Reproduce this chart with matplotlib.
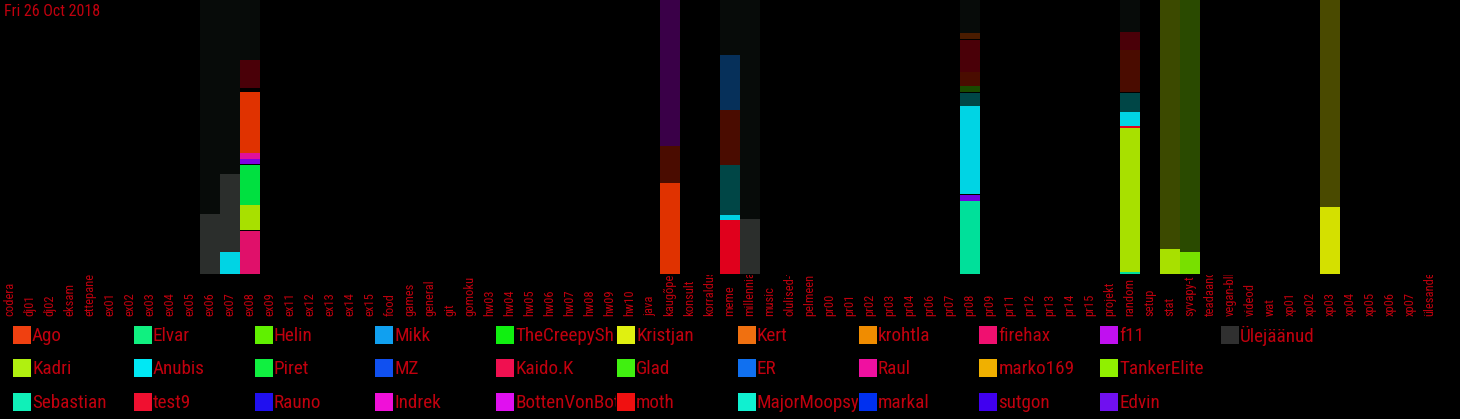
import matplotlib
matplotlib.use("Agg")
import matplotlib.pyplot as plt
import matplotlib.font_manager as fm
from matplotlib.patches import Rectangle
from matplotlib.transforms import Bbox, TransformedBbox

# the original uses a very narrow face; take the narrowest one available
narrow = [f for f in fm.fontManager.ttflist
          if "Narrow" in f.name or "Condensed" in f.name
          or str(f.stretch) in ("condensed", "semi-condensed", "extra-condensed", "ultra-condensed")]
family = narrow[0].name if narrow else "DejaVu Sans"
for pref in ["Liberation Sans Narrow", "Roboto Condensed", "DejaVu Sans Condensed", "Open Sans Condensed"]:
    if any(f.name == pref for f in narrow):
        family = pref
        break
plt.rcParams["font.family"] = [family, "DejaVu Sans"]
plt.rcParams["font.stretch"] = "condensed"
squeeze = 1.0 if narrow else 0.85

# channels (x axis), in the order shown
channels = [
    "codera", "dj01", "dj02", "eksam", "ettepanek", "ex01", "ex02", "ex03",
    "ex04", "ex05", "ex06", "ex07", "ex08", "ex09", "ex11", "ex12", "ex13",
    "ex14", "ex15", "food", "games", "general", "git", "gomoku", "hw03",
    "hw04", "hw05", "hw06", "hw07", "hw08", "hw09", "hw10", "java", "kaugõpe",
    "konsult", "korraldus", "meme", "millennial", "music", "olulised-teated",
    "pelmeeni-", "pr00", "pr01", "pr02", "pr03", "pr04", "pr06", "pr07",
    "pr08", "pr09", "pr11", "pr12", "pr13", "pr14", "pr15", "projekt",
    "random", "setup", "stat", "syvapy-t", "teadaanded", "vegan-blk",
    "videod", "wat", "xp01", "xp02", "xp03", "xp04", "xp05", "xp06", "xp07",
    "ülesanded",
]

# stacked segments per channel, bottom to top (share of column height, %)
stack_values = {
    "ex06": [21.9, 78.1],
    "ex07": [8.0, 28.5, 63.5],
    "ex08": [15.7, 0.4, 9.1, 14.6, 0.4, 1.8, 2.2, 22.3, 1.5, 10.2, 21.8],
    "kaugõpe": [33.2, 13.5, 53.3],
    "meme": [19.7, 1.8, 18.2, 20.1, 20.1, 20.1],
    "millennial": [20.1, 79.9],
    "pr08": [26.6, 2.2, 0.4, 32.1, 4.7, 0.4, 2.2, 5.1, 11.7, 0.4, 2.2, 12.0],
    "random": [0.7, 52.6, 0.7, 5.1, 6.9, 0.4, 15.3, 6.6, 11.7],
    "stat": [9.1, 90.9],
    "syvapy-t": [8.0, 92.0],
    "xp03": [24.5, 75.5],
}
stack_keys = {
    "ex06": ["Ülejäänud", "taust"],
    "ex07": ["Anubis", "Ülejäänud", "taust"],
    "ex08": ["Kaido.K", "must", "Kadri", "Piret", "must", "f11", "Raul",
             "Ago", "must", "tumepunane", "taust"],
    "kaugõpe": ["Ago", "tumepruun", "tumelilla"],
    "meme": ["test9", "Anubis", "tumeteal", "tumepruun", "tumesinine", "taust"],
    "millennial": ["Ülejäänud", "taust"],
    "pr08": ["Elvar", "Edvin", "must", "Anubis", "tumeteal", "must", "rohe",
             "tumepruun", "tumepunane", "must", "pruun", "taust"],
    "random": ["Elvar", "Kadri", "test9", "Anubis", "tumeteal", "must",
               "tumepruun", "tumepunane", "taust"],
    "stat": ["Kadri", "oliiv"],
    "syvapy-t": ["Helin", "tumeroheline"],
    "xp03": ["Kristjan", "tumekollane"],
}

# legend, column by column
legend_names = [
    "Ago", "Kadri", "Sebastian",
    "Elvar", "Anubis", "test9",
    "Helin", "Piret", "Rauno",
    "Mikk", "MZ", "Indrek",
    "TheCreepySh", "Kaido.K", "BottenVonBot",
    "Kristjan", "Glad", "moth",
    "Kert", "ER", "MajorMoopsy",
    "krohtla", "Raul", "markal",
    "firehax", "marko169", "sutgon",
    "f11", "TankerElite", "Edvin",
    "Ülejäänud",
]
legend_colors = [
    "#f04010", "#b0f010", "#10f0b8",
    "#10f080", "#00e8f4", "#f01030",
    "#60f000", "#10f040", "#2010f0",
    "#10a0f0", "#1050f0", "#f010d8",
    "#10f010", "#f01050", "#e010f0",
    "#e0f010", "#40f010", "#f01010",
    "#f07010", "#1070f0", "#10f0d0",
    "#f08c00", "#f010a0", "#0030f0",
    "#f01070", "#f0b000", "#4000f0",
    "#c010f0", "#90f000", "#7010f0",
    "#303030",
]

bar_colors = {
    "taust": "#070b09", "must": "#000000", "Ülejäänud": "#2b2e2c",
    "Anubis": "#00d4e4", "Kaido.K": "#e0106a", "Kadri": "#a8e000",
    "Piret": "#00e040", "f11": "#8000e0", "Raul": "#e0109a",
    "Ago": "#e03200", "test9": "#e0001c", "Elvar": "#00e09a",
    "Edvin": "#7000e0", "Helin": "#78e000", "Kristjan": "#d4e000",
    "tumepunane": "#4a0008", "tumepruun": "#4a0c00", "tumelilla": "#3a0048",
    "tumeteal": "#004646", "tumesinine": "#06305a", "rohe": "#1a4a00",
    "pruun": "#4a1c00", "oliiv": "#3c4a00", "tumeroheline": "#2a4a00",
    "tumekollane": "#4a4a00",
}

TEXT = "#c0000e"
W, H = 1460, 419
plot_bottom = 274

fig = plt.figure(figsize=(W / 100, H / 100), dpi=100, facecolor="black")
ax = fig.add_axes([0, 1 - plot_bottom / H, 1, plot_bottom / H])
ax.set_facecolor("black")
ax.set_xlim(-0.5, 72.5)
ax.set_ylim(0, 100)
ax.axis("off")

for i, ch in enumerate(channels):
    if ch not in stack_values:
        continue
    bottom = 0
    for v, k in zip(stack_values[ch], stack_keys[ch]):
        ax.bar(i, v, bottom=bottom, width=1.0, color=bar_colors[k], linewidth=0)
        bottom += v

ax.text(0.003, 0.985, "Fri 26 Oct 2018", transform=ax.transAxes, color=TEXT,
        fontsize=11.5 * squeeze, ha="left", va="top")

# channel names, written upward from a common baseline, clipped at the bars
label_clip = TransformedBbox(Bbox([[0, 0], [1, 1 - (plot_bottom + 1) / H]]), fig.transFigure)
for i, ch in enumerate(channels):
    x = ax.transData.transform((i, 0))[0] / W
    t = fig.text(x, 1 - 316 / H, ch, rotation=90, ha="center", va="bottom",
                 color=TEXT, fontsize=9 * squeeze)
    t.set_clip_box(label_clip)
    t.set_clip_on(True)

# legend grid
col_w, x0 = 120.8, 13
row_y = [335, 368, 401.5]
sw = 18
for j, (name, col) in enumerate(zip(legend_names, legend_colors)):
    c, r = divmod(j, 3)
    lx = x0 + c * col_w
    ly = row_y[r]
    fig.patches.append(Rectangle((lx / W, 1 - (ly + sw / 2) / H), sw / W, sw / H,
                                 transform=fig.transFigure, facecolor=col,
                                 edgecolor="none"))
    t = fig.text((lx + sw + 1) / W, 1 - (ly + 1) / H, name, color=TEXT,
                 fontsize=13.8 * squeeze, ha="left", va="center")
    t.set_clip_box(TransformedBbox(Bbox([[lx / W, 0], [(lx + col_w - 1) / W, 1]]),
                                   fig.transFigure))
    t.set_clip_on(True)

fig.savefig("out.png", dpi=100, facecolor="black")
